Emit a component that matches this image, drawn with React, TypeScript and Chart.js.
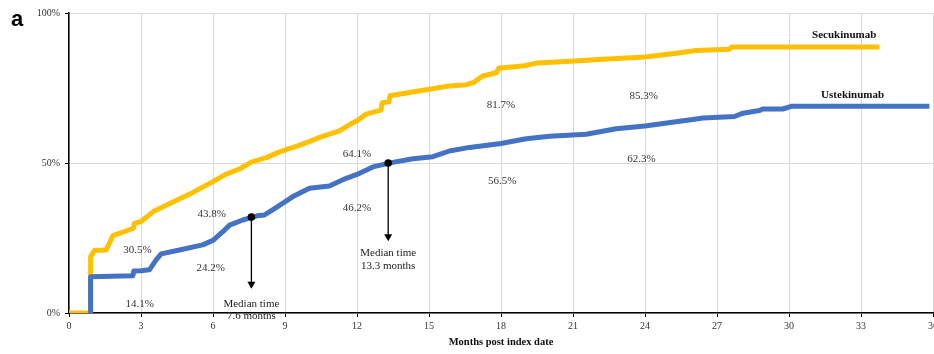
import React, { useEffect, useRef } from "react";
import { Chart, registerables } from "chart.js";

Chart.register(...registerables);

// Cumulative persistence curves (months post index date, % of patients)
const secukinumabMonths = [
  0, 0.9, 0.9, 1.06, 1.55, 1.83, 2.6, 2.69, 2.72, 3.0, 3.42, 3.56, 4.33, 5.16, 6.0,
  6.55, 7.1, 7.6, 8.22, 8.8, 9.74, 10.5, 11.27, 11.69, 12.0, 12.38, 13.0, 13.05, 13.33,
  13.37, 14.19, 15.02, 15.85, 16.55, 16.85, 17.24, 17.8, 17.92, 18.0, 18.98, 19.47, 20.72,
  22.24, 24.0, 25.3, 26.13, 27.52, 27.6, 33.77,
];
const secukinumabPct = [
  0, 0, 18.8, 20.8, 21.0, 25.8, 28.0, 28.3, 29.9, 30.5, 33.2, 34.0, 37.0, 40.2, 43.8,
  46.3, 48.0, 50.3, 51.8, 53.8, 56.3, 58.7, 60.7, 62.8, 64.1, 66.3, 67.6, 70.1, 70.4,
  72.4, 73.5, 74.6, 75.7, 76.1, 76.8, 79.0, 80.1, 81.7, 81.7, 82.4, 83.3, 83.8,
  84.6, 85.3, 86.6, 87.5, 87.9, 88.7, 88.7,
];
const ustekinumabMonths = [
  0.9, 0.9, 2.66, 2.7, 3.0, 3.35, 3.63, 3.84, 4.6, 5.57, 6.0, 6.41, 6.69, 7.24, 7.84,
  8.15, 8.63, 9.33, 10.02, 10.85, 11.55, 12.0, 12.66, 13.49, 14.33, 15.16, 15.85, 16.69,
  18.0, 19.05, 20.02, 21.55, 22.8, 24.0, 25.44, 25.99, 26.41, 27.73, 28.08, 28.77, 28.9,
  29.74, 30.09, 35.85,
];
const ustekinumabPct = [
  0, 12.1, 12.4, 14.0, 14.1, 14.4, 17.7, 19.7, 21.0, 22.7, 24.2, 27.1, 29.3, 31.0, 32.4,
  32.7, 35.1, 38.8, 41.6, 42.3, 44.9, 46.2, 48.7, 50.2, 51.4, 52.1, 54.0, 55.2,
  56.5, 58.1, 58.9, 59.6, 61.4, 62.3, 63.9, 64.5, 65.0, 65.5, 66.6, 67.5, 68.0,
  68.0, 68.9, 68.9,
];

// Axis ticks
const monthTicks = [0, 3, 6, 9, 12, 15, 18, 21, 24, 27, 30, 33, 36];
const pctTicks = [0, 50, 100];

// Median time markers
const medianMonths = [7.6, 13.3];
const medianPct = [32.0, 50.0];
const medianArrowTipPct = [8.1, 23.9];
const medianTextPct = [3.0, 19.8];
const medianText = [
  ["Median time", "7.6 months"],
  ["Median time", "13.3 months"],
];

// Percentage annotations at selected time points
const pointLabels = ["14.1%", "30.5%", "24.2%", "43.8%", "64.1%", "46.2%", "81.7%", "56.5%", "85.3%", "62.3%"];
const pointLabelMonths = [2.95, 2.85, 5.9, 5.95, 12.0, 12.0, 18.0, 18.05, 23.95, 23.85];
const pointLabelPct = [2.8, 21.1, 14.8, 33.0, 53.0, 35.0, 69.4, 44.1, 72.2, 51.3];

// Series names placed at the end of each curve
const seriesNames = ["Secukinumab", "Ustekinumab"];
const seriesNameMonths = [32.3, 32.65];
const seriesNamePct = [92.5, 72.5];

const YELLOW = "#FFC000";
const BLUE = "#4472C4";
const SERIF = "'Liberation Serif', 'Times New Roman', serif";

const toPoints = (xs: number[], ys: number[]) => xs.map((x, i) => ({ x, y: ys[i] }));

const annotationPlugin = {
  id: "kmAnnotations",
  afterDatasetsDraw(chart: any) {
    const { ctx, scales } = chart;
    const x = scales.x;
    const y = scales.y;
    ctx.save();

    // arrows from the median markers
    medianMonths.forEach((m, i) => {
      const px = x.getPixelForValue(m);
      const top = y.getPixelForValue(medianPct[i]) + 3;
      const tip = y.getPixelForValue(medianArrowTipPct[i]);
      ctx.strokeStyle = "#000";
      ctx.lineWidth = 1.3;
      ctx.beginPath();
      ctx.moveTo(px, top);
      ctx.lineTo(px, tip - 6);
      ctx.stroke();
      ctx.fillStyle = "#000";
      ctx.beginPath();
      ctx.moveTo(px - 4, tip - 7);
      ctx.lineTo(px + 4, tip - 7);
      ctx.lineTo(px, tip);
      ctx.closePath();
      ctx.fill();

      ctx.font = `11px ${SERIF}`;
      ctx.fillStyle = "#222";
      ctx.textAlign = "center";
      ctx.textBaseline = "middle";
      const ty = y.getPixelForValue(medianTextPct[i]);
      ctx.fillText(medianText[i][0], px, ty);
      ctx.fillText(medianText[i][1], px, ty + 12.5);
    });

    // value annotations
    ctx.font = `11px ${SERIF}`;
    ctx.fillStyle = "#333";
    ctx.textAlign = "center";
    ctx.textBaseline = "middle";
    pointLabels.forEach((t, i) => {
      ctx.fillText(t, x.getPixelForValue(pointLabelMonths[i]), y.getPixelForValue(pointLabelPct[i]));
    });

    // series names
    ctx.font = `bold 11px ${SERIF}`;
    ctx.fillStyle = "#111";
    seriesNames.forEach((t, i) => {
      ctx.fillText(t, x.getPixelForValue(seriesNameMonths[i]), y.getPixelForValue(seriesNamePct[i]));
    });

    ctx.restore();
  },
  afterDraw(chart: any) {
    const { ctx } = chart;
    ctx.save();
    ctx.font = "bold 22px 'Liberation Sans', Arial, sans-serif";
    ctx.fillStyle = "#000";
    ctx.textAlign = "left";
    ctx.textBaseline = "alphabetic";
    ctx.fillText("a", 11, 26);
    ctx.restore();
  },
};

export default function App() {
  const canvasRef = useRef<HTMLCanvasElement | null>(null);

  useEffect(() => {
    const canvas = canvasRef.current;
    if (!canvas) return;
    const chart = new Chart(canvas, {
      type: "line",
      data: {
        datasets: [
          {
            label: "Median",
            type: "scatter",
            data: toPoints(medianMonths, medianPct),
            pointRadius: 3.8,
            pointBackgroundColor: "#000",
            pointBorderWidth: 0,
            showLine: false,
            order: 0,
          },
          {
            label: "Ustekinumab",
            data: toPoints(ustekinumabMonths, ustekinumabPct),
            borderColor: BLUE,
            borderWidth: 5,
            pointRadius: 0,
            tension: 0,
            fill: false,
            borderJoinStyle: "round",
            order: 1,
          },
          {
            label: "Secukinumab",
            data: toPoints(secukinumabMonths, secukinumabPct),
            borderColor: YELLOW,
            borderWidth: 5,
            pointRadius: 0,
            tension: 0,
            fill: false,
            borderJoinStyle: "round",
            order: 2,
          },
        ],
      },
      options: {
        responsive: false,
        animation: false,
        devicePixelRatio: 1,
        layout: { autoPadding: false, padding: { top: 13, right: 1, bottom: 0, left: 0 } },
        plugins: {
          legend: { display: false },
          tooltip: { enabled: false },
        },
        scales: {
          x: {
            type: "linear",
            min: 0,
            max: 36,
            afterBuildTicks: (scale: any) => {
              scale.ticks = monthTicks.map((v) => ({ value: v }));
            },
            afterFit: (scale: any) => {
              scale.height = 41;
              scale.paddingLeft = 0;
              scale.paddingRight = 0;
            },
            grid: {
              color: "#d9d9d9",
              lineWidth: 1,
              drawTicks: true,
              tickLength: 4,
              tickColor: "#000",
              tickWidth: 1,
            },
            border: { display: true, color: "#000", width: 1.5 },
            ticks: {
              padding: 3,
              maxRotation: 0,
              autoSkip: false,
              color: "#333",
              font: { family: SERIF, size: 10 },
            },
            title: {
              display: true,
              text: "Months post index date",
              color: "#111",
              font: { family: SERIF, size: 10.5, weight: "bold" },
              padding: { top: 0, bottom: 5.4 },
            },
          },
          y: {
            type: "linear",
            min: 0,
            max: 100,
            afterBuildTicks: (scale: any) => {
              scale.ticks = pctTicks.map((v) => ({ value: v }));
            },
            afterFit: (scale: any) => {
              scale.width = 69;
              scale.paddingTop = 0;
              scale.paddingBottom = 0;
            },
            grid: {
              color: "#d9d9d9",
              lineWidth: 1,
              drawTicks: true,
              tickLength: 4,
              tickColor: "#000",
              tickWidth: 1,
            },
            border: { display: true, color: "#000", width: 1.5 },
            ticks: {
              padding: 5,
              color: "#333",
              font: { family: SERIF, size: 10 },
              callback: (v: any) => `${v}%`,
            },
          },
        },
      },
      plugins: [annotationPlugin],
    } as any);
    return () => chart.destroy();
  }, []);

  return (
    <div style={{ position: "fixed", left: 0, top: 0, width: 934, height: 354, background: "#fff" }}>
      <canvas ref={canvasRef} width={934} height={354} style={{ width: 934, height: 354, display: "block" }} />
    </div>
  );
}
